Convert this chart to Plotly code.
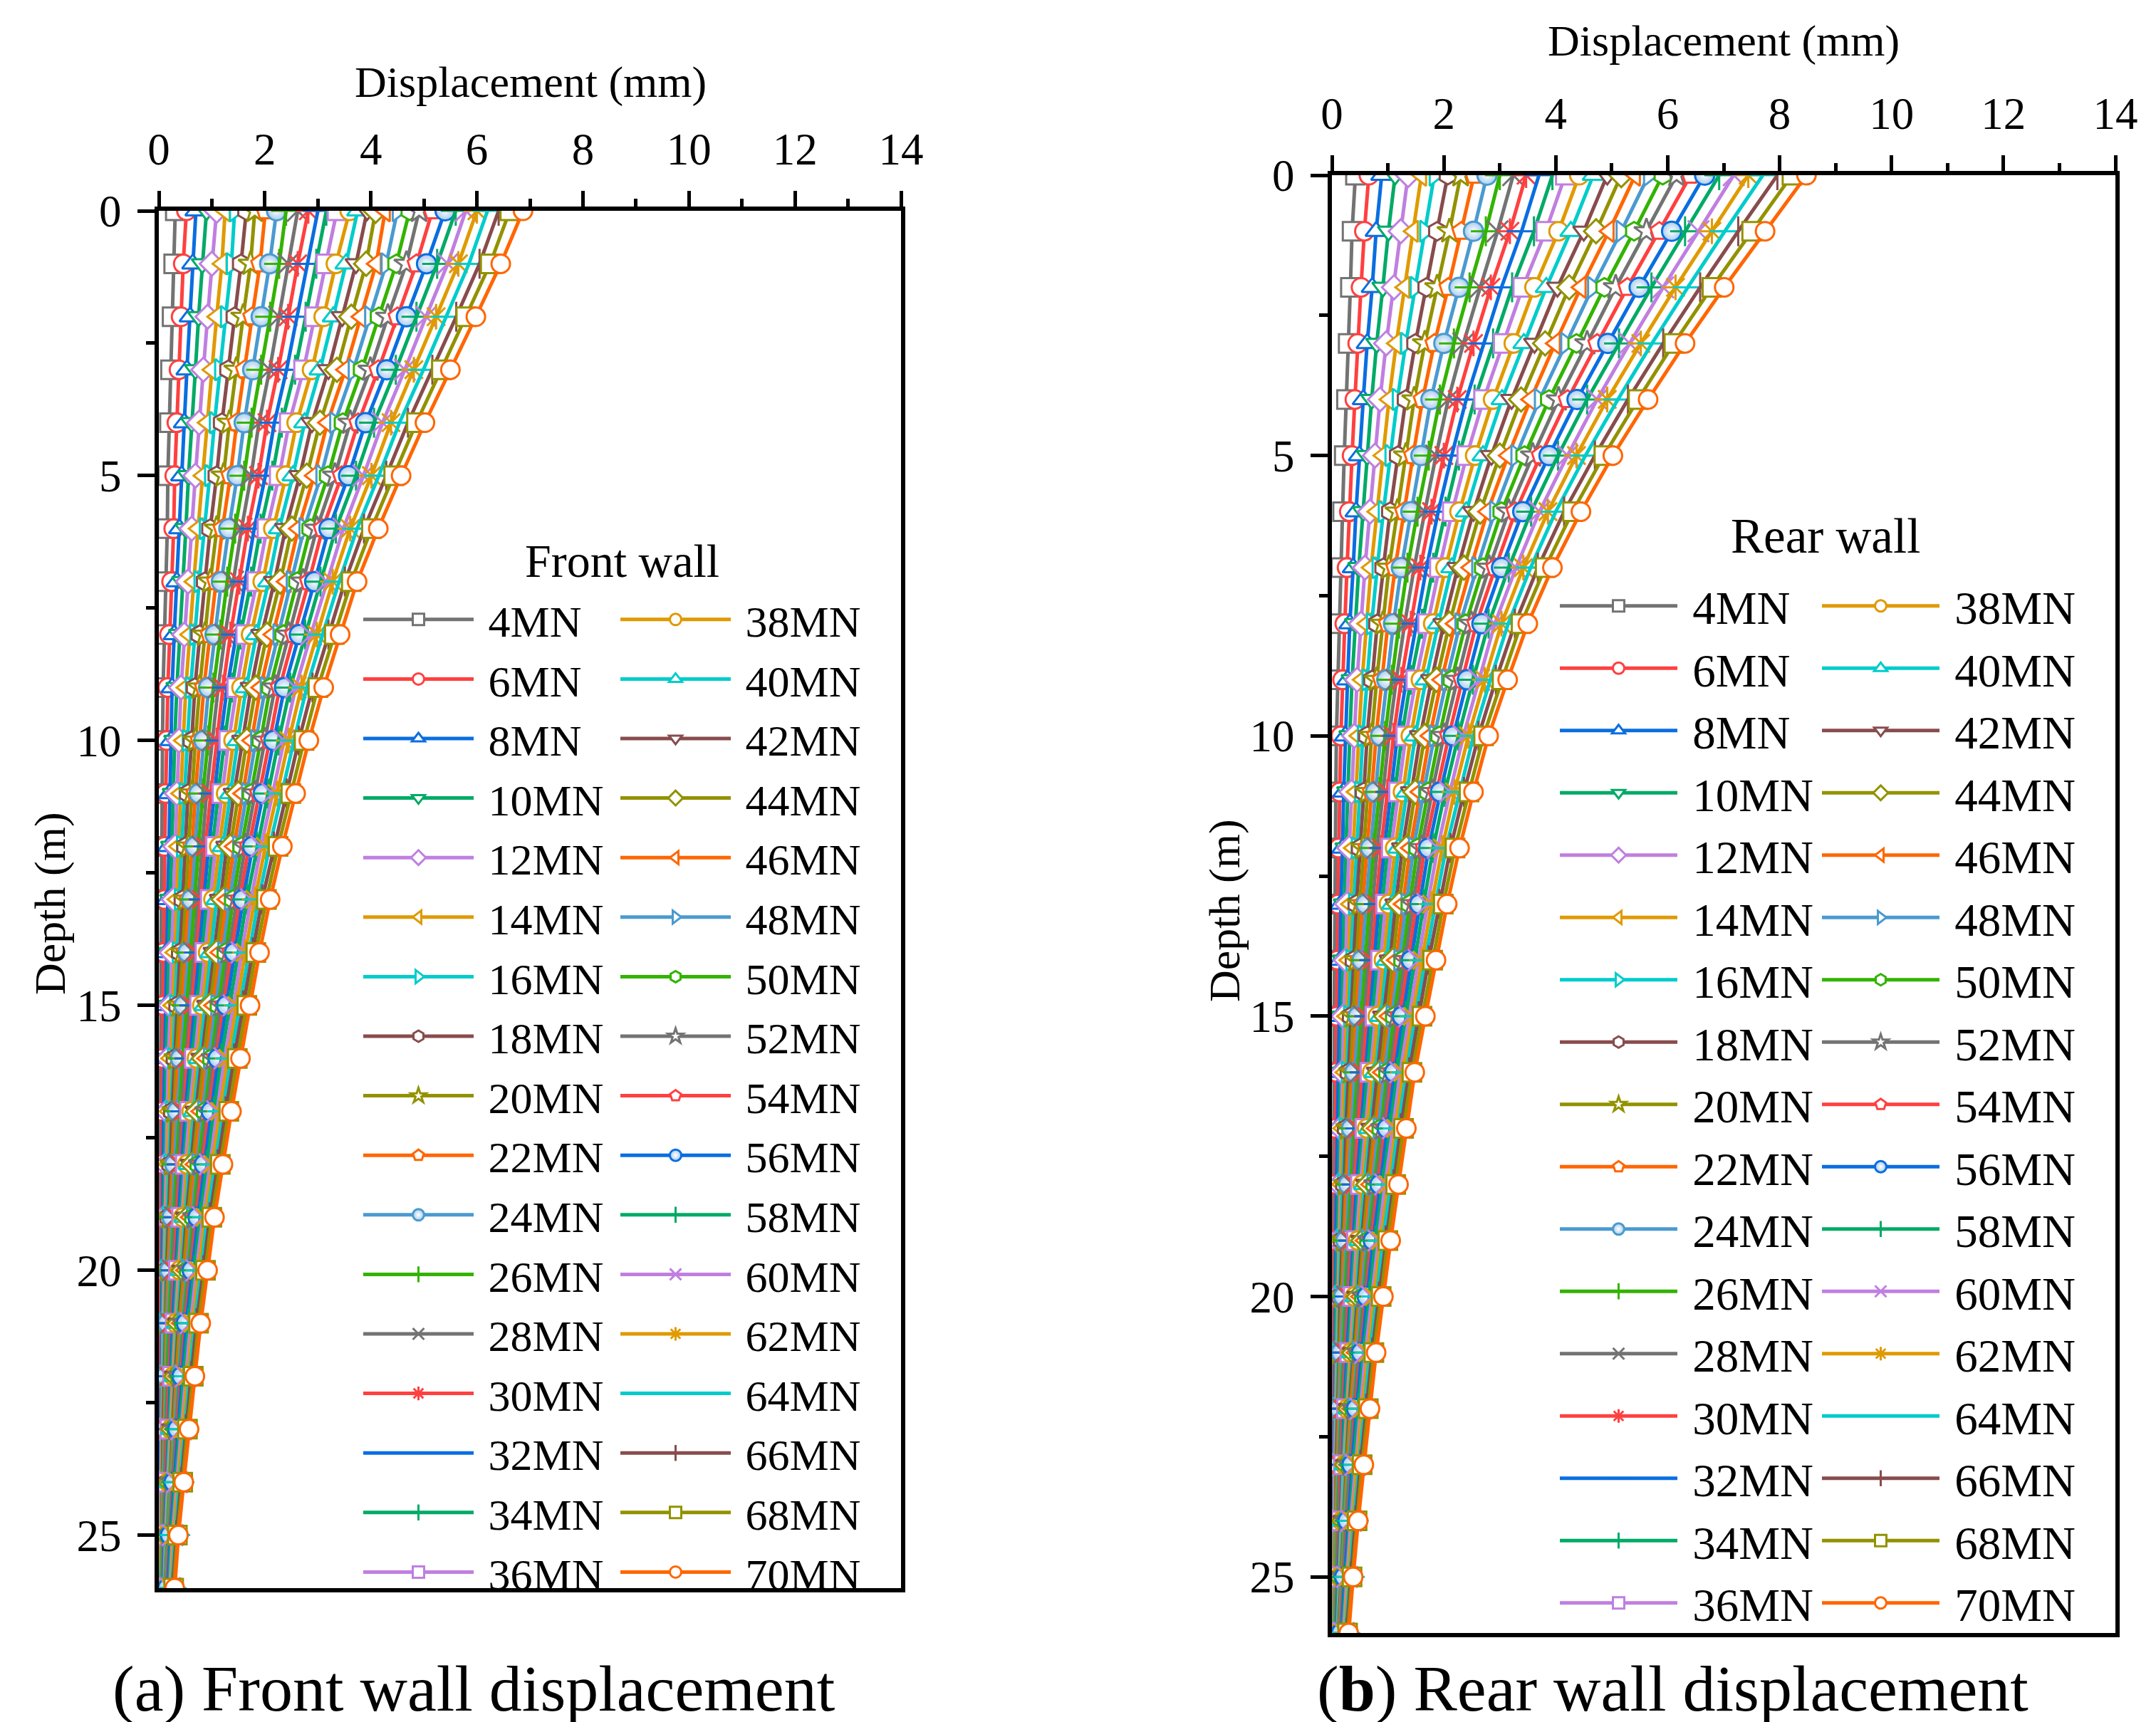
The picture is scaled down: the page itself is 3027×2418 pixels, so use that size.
import plotly.graph_objects as go

# ---------------- data ----------------
loads = [4, 6, 8, 10, 12, 14, 16, 18, 20, 22, 24, 26, 28, 30, 32, 34, 36,
         38, 40, 42, 44, 46, 48, 50, 52, 54, 56, 58, 60, 62, 64, 66, 68, 70]
depths = [0, 1, 2, 3, 4, 5, 6, 7, 8, 9, 10, 11, 12, 13, 14, 15, 16, 17, 18,
          19, 20, 21, 22, 23, 24, 25, 26]
x_ticks = [0, 2, 4, 6, 8, 10, 12, 14]
y_ticks = [0, 5, 10, 15, 20, 25]

# Front wall displacement (mm); one list per depth, values ordered as `loads`
front_d00 = [0.31, 0.52, 0.70, 0.90, 1.09, 1.25, 1.43, 1.65, 1.81, 2.01, 2.22, 2.40, 2.62, 2.82, 3.00, 3.16, 3.36, 3.60, 3.75, 3.93, 4.09, 4.27, 4.50, 4.73, 4.91, 5.16, 5.40, 5.60, 5.79, 6.00, 6.20, 6.41, 6.62, 6.87]
front_d01 = [0.28, 0.46, 0.64, 0.82, 1.00, 1.19, 1.37, 1.55, 1.73, 1.91, 2.09, 2.27, 2.44, 2.62, 2.80, 2.97, 3.15, 3.34, 3.53, 3.72, 3.91, 4.10, 4.29, 4.48, 4.67, 4.86, 5.05, 5.25, 5.45, 5.65, 5.85, 6.05, 6.25, 6.45]
front_d02 = [0.25, 0.42, 0.59, 0.75, 0.92, 1.09, 1.26, 1.43, 1.59, 1.76, 1.93, 2.10, 2.27, 2.44, 2.60, 2.77, 2.94, 3.11, 3.29, 3.46, 3.63, 3.81, 3.98, 4.15, 4.32, 4.50, 4.67, 4.86, 5.04, 5.23, 5.42, 5.61, 5.79, 5.98]
front_d03 = [0.22, 0.38, 0.53, 0.69, 0.84, 1.00, 1.15, 1.31, 1.46, 1.62, 1.77, 1.93, 2.09, 2.25, 2.41, 2.57, 2.73, 2.89, 3.04, 3.20, 3.36, 3.52, 3.67, 3.83, 3.99, 4.14, 4.30, 4.47, 4.64, 4.81, 4.99, 5.16, 5.33, 5.50]
front_d04 = [0.20, 0.34, 0.48, 0.62, 0.76, 0.91, 1.05, 1.19, 1.33, 1.47, 1.61, 1.75, 1.89, 2.04, 2.18, 2.32, 2.46, 2.60, 2.75, 2.89, 3.04, 3.18, 3.32, 3.47, 3.61, 3.76, 3.90, 4.06, 4.22, 4.38, 4.54, 4.70, 4.86, 5.02]
front_d05 = [0.17, 0.30, 0.43, 0.56, 0.69, 0.83, 0.96, 1.09, 1.22, 1.35, 1.48, 1.61, 1.74, 1.88, 2.01, 2.14, 2.27, 2.40, 2.53, 2.66, 2.79, 2.93, 3.06, 3.19, 3.32, 3.45, 3.58, 3.72, 3.86, 4.01, 4.15, 4.29, 4.43, 4.57]
front_d06 = [0.16, 0.28, 0.39, 0.51, 0.62, 0.74, 0.86, 0.97, 1.09, 1.20, 1.32, 1.44, 1.56, 1.68, 1.80, 1.92, 2.04, 2.16, 2.27, 2.39, 2.51, 2.63, 2.74, 2.86, 2.98, 3.09, 3.21, 3.34, 3.48, 3.61, 3.74, 3.87, 4.01, 4.14]
front_d07 = [0.13, 0.24, 0.34, 0.45, 0.55, 0.66, 0.76, 0.87, 0.97, 1.08, 1.18, 1.29, 1.40, 1.52, 1.63, 1.74, 1.85, 1.96, 2.07, 2.18, 2.29, 2.40, 2.50, 2.61, 2.72, 2.83, 2.94, 3.05, 3.17, 3.28, 3.40, 3.51, 3.63, 3.74]
front_d08 = [0.10, 0.20, 0.29, 0.39, 0.48, 0.58, 0.68, 0.77, 0.87, 0.96, 1.06, 1.16, 1.25, 1.35, 1.45, 1.54, 1.64, 1.74, 1.84, 1.94, 2.04, 2.15, 2.25, 2.35, 2.45, 2.55, 2.65, 2.76, 2.87, 2.98, 3.09, 3.20, 3.31, 3.42]
front_d09 = [0.08, 0.17, 0.25, 0.34, 0.42, 0.51, 0.60, 0.68, 0.77, 0.85, 0.94, 1.03, 1.12, 1.21, 1.29, 1.38, 1.47, 1.56, 1.65, 1.74, 1.83, 1.92, 2.01, 2.10, 2.19, 2.28, 2.37, 2.48, 2.58, 2.69, 2.79, 2.90, 3.00, 3.11]
front_d10 = [0.07, 0.15, 0.23, 0.30, 0.38, 0.46, 0.54, 0.62, 0.69, 0.77, 0.85, 0.93, 1.01, 1.09, 1.16, 1.24, 1.32, 1.41, 1.49, 1.58, 1.66, 1.75, 1.83, 1.92, 2.00, 2.09, 2.17, 2.26, 2.36, 2.45, 2.55, 2.64, 2.74, 2.83]
front_d11 = [0.06, 0.13, 0.20, 0.27, 0.34, 0.41, 0.48, 0.55, 0.62, 0.69, 0.76, 0.83, 0.90, 0.98, 1.05, 1.12, 1.19, 1.27, 1.35, 1.42, 1.50, 1.58, 1.66, 1.74, 1.81, 1.89, 1.97, 2.06, 2.14, 2.23, 2.32, 2.41, 2.49, 2.58]
front_d12 = [0.05, 0.11, 0.18, 0.24, 0.31, 0.37, 0.43, 0.50, 0.56, 0.63, 0.69, 0.75, 0.82, 0.88, 0.94, 1.01, 1.07, 1.14, 1.21, 1.28, 1.35, 1.42, 1.49, 1.56, 1.63, 1.70, 1.77, 1.85, 1.93, 2.01, 2.09, 2.17, 2.25, 2.33]
front_d13 = [0.05, 0.11, 0.16, 0.22, 0.28, 0.34, 0.39, 0.45, 0.51, 0.56, 0.62, 0.68, 0.74, 0.80, 0.85, 0.91, 0.97, 1.03, 1.09, 1.16, 1.22, 1.28, 1.34, 1.40, 1.47, 1.53, 1.59, 1.66, 1.74, 1.81, 1.88, 1.95, 2.03, 2.10]
front_d14 = [0.04, 0.09, 0.14, 0.19, 0.24, 0.30, 0.35, 0.40, 0.45, 0.50, 0.55, 0.60, 0.66, 0.71, 0.76, 0.82, 0.87, 0.93, 0.98, 1.04, 1.09, 1.15, 1.21, 1.26, 1.32, 1.37, 1.43, 1.50, 1.56, 1.63, 1.70, 1.77, 1.83, 1.90]
front_d15 = [0.04, 0.08, 0.13, 0.17, 0.22, 0.26, 0.30, 0.35, 0.39, 0.44, 0.48, 0.53, 0.58, 0.63, 0.67, 0.72, 0.77, 0.82, 0.87, 0.92, 0.97, 1.03, 1.08, 1.13, 1.18, 1.23, 1.28, 1.34, 1.41, 1.47, 1.53, 1.59, 1.66, 1.72]
front_d16 = [0.03, 0.07, 0.11, 0.14, 0.18, 0.22, 0.26, 0.30, 0.33, 0.37, 0.41, 0.45, 0.50, 0.54, 0.58, 0.63, 0.67, 0.72, 0.76, 0.81, 0.85, 0.90, 0.94, 0.99, 1.03, 1.08, 1.12, 1.18, 1.24, 1.30, 1.36, 1.42, 1.48, 1.54]
front_d17 = [0.03, 0.06, 0.09, 0.13, 0.16, 0.19, 0.22, 0.25, 0.29, 0.32, 0.35, 0.39, 0.43, 0.47, 0.50, 0.54, 0.58, 0.62, 0.66, 0.70, 0.74, 0.79, 0.83, 0.87, 0.91, 0.95, 0.99, 1.04, 1.10, 1.15, 1.21, 1.26, 1.32, 1.37]
front_d18 = [0.03, 0.06, 0.08, 0.11, 0.14, 0.17, 0.19, 0.22, 0.25, 0.27, 0.30, 0.33, 0.37, 0.40, 0.43, 0.47, 0.50, 0.54, 0.57, 0.61, 0.64, 0.68, 0.72, 0.75, 0.79, 0.82, 0.86, 0.91, 0.96, 1.01, 1.06, 1.11, 1.16, 1.21]
front_d19 = [0.02, 0.04, 0.07, 0.09, 0.11, 0.14, 0.16, 0.18, 0.20, 0.23, 0.25, 0.28, 0.31, 0.34, 0.37, 0.40, 0.43, 0.46, 0.49, 0.52, 0.55, 0.59, 0.62, 0.65, 0.68, 0.71, 0.74, 0.78, 0.83, 0.87, 0.91, 0.96, 1.00, 1.05]
front_d20 = [0.02, 0.04, 0.06, 0.08, 0.10, 0.12, 0.13, 0.15, 0.17, 0.19, 0.21, 0.24, 0.26, 0.29, 0.32, 0.34, 0.37, 0.40, 0.42, 0.45, 0.47, 0.50, 0.53, 0.55, 0.58, 0.60, 0.63, 0.67, 0.71, 0.75, 0.80, 0.84, 0.88, 0.92]
front_d21 = [0.02, 0.04, 0.05, 0.07, 0.08, 0.10, 0.11, 0.13, 0.14, 0.16, 0.17, 0.19, 0.22, 0.24, 0.26, 0.29, 0.31, 0.33, 0.35, 0.37, 0.39, 0.42, 0.44, 0.46, 0.48, 0.50, 0.52, 0.56, 0.60, 0.64, 0.67, 0.71, 0.75, 0.79]
front_d22 = [0.02, 0.03, 0.04, 0.06, 0.07, 0.08, 0.09, 0.10, 0.12, 0.13, 0.14, 0.16, 0.18, 0.20, 0.22, 0.24, 0.26, 0.28, 0.30, 0.31, 0.33, 0.35, 0.37, 0.39, 0.40, 0.42, 0.44, 0.47, 0.51, 0.54, 0.58, 0.61, 0.65, 0.68]
front_d23 = [0.01, 0.02, 0.03, 0.04, 0.05, 0.06, 0.07, 0.08, 0.09, 0.10, 0.11, 0.13, 0.14, 0.16, 0.18, 0.19, 0.21, 0.23, 0.24, 0.26, 0.27, 0.29, 0.30, 0.32, 0.33, 0.35, 0.36, 0.39, 0.42, 0.45, 0.48, 0.51, 0.54, 0.57]
front_d24 = [0.01, 0.02, 0.03, 0.03, 0.04, 0.05, 0.06, 0.07, 0.07, 0.08, 0.09, 0.10, 0.12, 0.13, 0.14, 0.16, 0.17, 0.18, 0.19, 0.21, 0.22, 0.23, 0.24, 0.25, 0.26, 0.28, 0.29, 0.32, 0.34, 0.37, 0.39, 0.42, 0.45, 0.47]
front_d25 = [0.01, 0.02, 0.02, 0.03, 0.03, 0.04, 0.05, 0.05, 0.06, 0.06, 0.07, 0.08, 0.09, 0.10, 0.11, 0.12, 0.13, 0.14, 0.15, 0.16, 0.17, 0.18, 0.18, 0.19, 0.20, 0.21, 0.22, 0.24, 0.26, 0.28, 0.31, 0.33, 0.35, 0.37]
front_d26 = [0.01, 0.01, 0.02, 0.02, 0.03, 0.03, 0.03, 0.04, 0.04, 0.05, 0.05, 0.06, 0.07, 0.08, 0.08, 0.09, 0.10, 0.11, 0.11, 0.12, 0.13, 0.13, 0.14, 0.15, 0.15, 0.16, 0.17, 0.19, 0.21, 0.23, 0.24, 0.26, 0.28, 0.30]

# Rear wall displacement (mm)
rear_d00 = [0.42, 0.66, 0.89, 1.13, 1.36, 1.60, 1.83, 2.07, 2.30, 2.54, 2.77, 3.00, 3.24, 3.47, 3.70, 3.94, 4.17, 4.42, 4.67, 4.92, 5.17, 5.42, 5.66, 5.91, 6.16, 6.41, 6.66, 6.92, 7.18, 7.44, 7.70, 7.96, 8.22, 8.48]
rear_d01 = [0.36, 0.58, 0.79, 1.01, 1.23, 1.45, 1.66, 1.88, 2.10, 2.31, 2.53, 2.75, 2.96, 3.18, 3.39, 3.61, 3.82, 4.05, 4.27, 4.50, 4.72, 4.95, 5.17, 5.40, 5.62, 5.85, 6.07, 6.31, 6.55, 6.79, 7.02, 7.26, 7.50, 7.74]
rear_d02 = [0.33, 0.52, 0.72, 0.91, 1.11, 1.30, 1.49, 1.69, 1.88, 2.08, 2.27, 2.46, 2.65, 2.84, 3.03, 3.22, 3.41, 3.62, 3.83, 4.03, 4.24, 4.45, 4.66, 4.87, 5.07, 5.28, 5.49, 5.71, 5.92, 6.14, 6.36, 6.58, 6.79, 7.01]
rear_d03 = [0.29, 0.46, 0.63, 0.80, 0.97, 1.15, 1.32, 1.49, 1.66, 1.83, 2.00, 2.18, 2.35, 2.53, 2.71, 2.88, 3.06, 3.25, 3.43, 3.62, 3.81, 3.99, 4.18, 4.37, 4.56, 4.74, 4.93, 5.13, 5.32, 5.52, 5.72, 5.92, 6.11, 6.31]
rear_d04 = [0.26, 0.41, 0.56, 0.71, 0.86, 1.02, 1.17, 1.32, 1.47, 1.62, 1.77, 1.93, 2.08, 2.24, 2.40, 2.55, 2.71, 2.88, 3.04, 3.21, 3.38, 3.55, 3.71, 3.88, 4.05, 4.21, 4.38, 4.56, 4.74, 4.92, 5.11, 5.29, 5.47, 5.65]
rear_d05 = [0.22, 0.36, 0.49, 0.63, 0.77, 0.91, 1.04, 1.18, 1.32, 1.45, 1.59, 1.73, 1.86, 2.00, 2.14, 2.27, 2.41, 2.56, 2.70, 2.85, 3.00, 3.15, 3.29, 3.44, 3.59, 3.73, 3.88, 4.04, 4.21, 4.37, 4.53, 4.70, 4.86, 5.02]
rear_d06 = [0.19, 0.31, 0.43, 0.56, 0.68, 0.80, 0.92, 1.04, 1.17, 1.29, 1.41, 1.53, 1.66, 1.78, 1.90, 2.03, 2.15, 2.28, 2.40, 2.53, 2.65, 2.78, 2.91, 3.03, 3.16, 3.28, 3.41, 3.56, 3.71, 3.86, 4.00, 4.15, 4.30, 4.45]
rear_d07 = [0.16, 0.27, 0.38, 0.48, 0.59, 0.70, 0.81, 0.92, 1.02, 1.13, 1.24, 1.35, 1.47, 1.58, 1.69, 1.81, 1.92, 2.03, 2.14, 2.25, 2.36, 2.48, 2.59, 2.70, 2.81, 2.92, 3.03, 3.16, 3.29, 3.42, 3.55, 3.68, 3.81, 3.94]
rear_d08 = [0.13, 0.23, 0.32, 0.42, 0.52, 0.62, 0.71, 0.81, 0.91, 1.00, 1.10, 1.20, 1.30, 1.41, 1.51, 1.61, 1.71, 1.81, 1.90, 2.00, 2.10, 2.20, 2.29, 2.39, 2.49, 2.58, 2.68, 2.80, 2.91, 3.03, 3.15, 3.27, 3.38, 3.50]
rear_d09 = [0.10, 0.19, 0.28, 0.36, 0.45, 0.54, 0.63, 0.72, 0.80, 0.89, 0.98, 1.07, 1.15, 1.24, 1.33, 1.41, 1.50, 1.59, 1.68, 1.78, 1.87, 1.96, 2.05, 2.14, 2.24, 2.33, 2.42, 2.52, 2.63, 2.73, 2.83, 2.93, 3.04, 3.14]
rear_d10 = [0.08, 0.16, 0.24, 0.32, 0.40, 0.48, 0.55, 0.63, 0.71, 0.79, 0.87, 0.95, 1.02, 1.10, 1.17, 1.25, 1.32, 1.41, 1.49, 1.58, 1.66, 1.75, 1.83, 1.92, 2.00, 2.09, 2.17, 2.26, 2.35, 2.44, 2.53, 2.62, 2.71, 2.80]
rear_d11 = [0.07, 0.14, 0.21, 0.28, 0.35, 0.43, 0.50, 0.57, 0.64, 0.71, 0.78, 0.85, 0.92, 0.99, 1.05, 1.12, 1.19, 1.27, 1.34, 1.42, 1.49, 1.57, 1.64, 1.72, 1.79, 1.87, 1.94, 2.02, 2.11, 2.19, 2.28, 2.36, 2.45, 2.53]
rear_d12 = [0.06, 0.12, 0.19, 0.25, 0.31, 0.38, 0.44, 0.50, 0.56, 0.63, 0.69, 0.75, 0.81, 0.88, 0.94, 1.00, 1.06, 1.13, 1.19, 1.26, 1.33, 1.40, 1.46, 1.53, 1.60, 1.66, 1.73, 1.81, 1.89, 1.97, 2.04, 2.12, 2.20, 2.28]
rear_d13 = [0.05, 0.11, 0.16, 0.22, 0.27, 0.33, 0.39, 0.44, 0.50, 0.55, 0.61, 0.67, 0.73, 0.79, 0.84, 0.90, 0.96, 1.02, 1.08, 1.14, 1.20, 1.27, 1.33, 1.39, 1.45, 1.51, 1.57, 1.64, 1.71, 1.78, 1.85, 1.92, 1.99, 2.06]
rear_d14 = [0.05, 0.10, 0.15, 0.20, 0.25, 0.30, 0.34, 0.39, 0.44, 0.49, 0.54, 0.60, 0.65, 0.71, 0.76, 0.82, 0.87, 0.93, 0.98, 1.04, 1.09, 1.15, 1.20, 1.26, 1.31, 1.37, 1.42, 1.48, 1.55, 1.61, 1.67, 1.73, 1.80, 1.86]
rear_d15 = [0.04, 0.08, 0.13, 0.17, 0.21, 0.26, 0.30, 0.34, 0.38, 0.43, 0.47, 0.52, 0.57, 0.62, 0.67, 0.72, 0.77, 0.82, 0.87, 0.92, 0.97, 1.02, 1.06, 1.11, 1.16, 1.21, 1.26, 1.32, 1.38, 1.44, 1.49, 1.55, 1.61, 1.67]
rear_d16 = [0.04, 0.08, 0.11, 0.15, 0.19, 0.23, 0.26, 0.30, 0.34, 0.37, 0.41, 0.46, 0.50, 0.55, 0.59, 0.64, 0.68, 0.72, 0.77, 0.81, 0.86, 0.90, 0.94, 0.99, 1.03, 1.08, 1.12, 1.17, 1.22, 1.27, 1.33, 1.38, 1.43, 1.48]
rear_d17 = [0.03, 0.06, 0.09, 0.13, 0.16, 0.19, 0.22, 0.25, 0.29, 0.32, 0.35, 0.39, 0.43, 0.47, 0.51, 0.55, 0.59, 0.63, 0.67, 0.71, 0.75, 0.79, 0.83, 0.87, 0.91, 0.95, 0.99, 1.04, 1.09, 1.14, 1.18, 1.23, 1.28, 1.33]
rear_d18 = [0.03, 0.06, 0.08, 0.11, 0.14, 0.17, 0.19, 0.22, 0.25, 0.27, 0.30, 0.34, 0.37, 0.41, 0.44, 0.48, 0.51, 0.55, 0.58, 0.62, 0.65, 0.69, 0.72, 0.76, 0.79, 0.83, 0.86, 0.91, 0.95, 1.00, 1.05, 1.10, 1.14, 1.19]
rear_d19 = [0.03, 0.05, 0.07, 0.10, 0.12, 0.14, 0.16, 0.18, 0.21, 0.23, 0.25, 0.28, 0.31, 0.35, 0.38, 0.41, 0.44, 0.47, 0.50, 0.53, 0.56, 0.59, 0.62, 0.65, 0.68, 0.71, 0.74, 0.78, 0.83, 0.87, 0.91, 0.96, 1.00, 1.05]
rear_d20 = [0.02, 0.04, 0.06, 0.08, 0.10, 0.12, 0.13, 0.15, 0.17, 0.19, 0.21, 0.24, 0.27, 0.30, 0.32, 0.35, 0.38, 0.41, 0.43, 0.46, 0.48, 0.51, 0.53, 0.56, 0.58, 0.61, 0.63, 0.67, 0.71, 0.75, 0.80, 0.84, 0.88, 0.92]
rear_d21 = [0.02, 0.04, 0.05, 0.07, 0.08, 0.10, 0.11, 0.13, 0.14, 0.16, 0.17, 0.20, 0.22, 0.25, 0.27, 0.30, 0.32, 0.34, 0.36, 0.38, 0.40, 0.43, 0.45, 0.47, 0.49, 0.51, 0.53, 0.57, 0.60, 0.64, 0.68, 0.72, 0.75, 0.79]
rear_d22 = [0.02, 0.03, 0.04, 0.06, 0.07, 0.08, 0.09, 0.10, 0.12, 0.13, 0.14, 0.16, 0.18, 0.20, 0.22, 0.24, 0.26, 0.28, 0.30, 0.31, 0.33, 0.35, 0.37, 0.39, 0.40, 0.42, 0.44, 0.47, 0.51, 0.54, 0.58, 0.61, 0.65, 0.68]
rear_d23 = [0.01, 0.02, 0.03, 0.04, 0.05, 0.06, 0.07, 0.08, 0.09, 0.10, 0.11, 0.13, 0.14, 0.16, 0.18, 0.19, 0.21, 0.23, 0.24, 0.26, 0.27, 0.29, 0.30, 0.32, 0.33, 0.35, 0.36, 0.39, 0.42, 0.45, 0.48, 0.51, 0.54, 0.57]
rear_d24 = [0.01, 0.02, 0.03, 0.03, 0.04, 0.05, 0.06, 0.07, 0.07, 0.08, 0.09, 0.10, 0.12, 0.13, 0.14, 0.16, 0.17, 0.18, 0.19, 0.21, 0.22, 0.23, 0.24, 0.25, 0.26, 0.28, 0.29, 0.32, 0.34, 0.37, 0.39, 0.42, 0.45, 0.47]
rear_d25 = [0.01, 0.02, 0.02, 0.03, 0.03, 0.04, 0.05, 0.05, 0.06, 0.06, 0.07, 0.08, 0.09, 0.10, 0.11, 0.12, 0.13, 0.14, 0.15, 0.16, 0.17, 0.18, 0.19, 0.20, 0.21, 0.22, 0.23, 0.25, 0.27, 0.29, 0.32, 0.34, 0.36, 0.38]
rear_d26 = [0.01, 0.01, 0.02, 0.02, 0.03, 0.03, 0.03, 0.04, 0.04, 0.05, 0.05, 0.06, 0.07, 0.08, 0.08, 0.09, 0.10, 0.11, 0.11, 0.12, 0.13, 0.13, 0.14, 0.15, 0.15, 0.16, 0.17, 0.19, 0.21, 0.23, 0.24, 0.26, 0.28, 0.30]

front_rows = [front_d00, front_d01, front_d02, front_d03, front_d04, front_d05, front_d06,
              front_d07, front_d08, front_d09, front_d10, front_d11, front_d12, front_d13,
              front_d14, front_d15, front_d16, front_d17, front_d18, front_d19, front_d20,
              front_d21, front_d22, front_d23, front_d24, front_d25, front_d26]
rear_rows = [rear_d00, rear_d01, rear_d02, rear_d03, rear_d04, rear_d05, rear_d06,
             rear_d07, rear_d08, rear_d09, rear_d10, rear_d11, rear_d12, rear_d13,
             rear_d14, rear_d15, rear_d16, rear_d17, rear_d18, rear_d19, rear_d20,
             rear_d21, rear_d22, rear_d23, rear_d24, rear_d25, rear_d26]
for r in front_rows + rear_rows:
    assert len(r) == len(loads)

# ---------------- styles ----------------
palette = ["#737373", "#FF4040", "#0A6EE0", "#00AA66", "#C07FE0", "#E09A00",
           "#00CCCC", "#884C4C", "#929200", "#FF6600", "#4A9AD0", "#33B300"]
symbols = ["square", "circle", "triangle-up", "triangle-down", "diamond",
           "triangle-left", "triangle-right", "hexagon", "star", "pentagon",
           "sphere", "cross-thin", "x-thin", "asterisk", "line-ew", "line-ns"]
FONT = "Liberation Serif"
W, H = 3027, 2418
NB = "\u00a0"

fig = go.Figure()


def add_series(rows, xa, ya, legend_a, legend_b):
    for j, load in enumerate(loads):
        xs = [row[j] for row in rows]
        col = palette[j % len(palette)]
        sym = symbols[j % len(symbols)]
        if sym == "sphere":
            marker = dict(symbol="circle", size=27, color="#A9CCEE",
                          gradient=dict(type="radial", color="#FFFFFF"),
                          line=dict(color=col, width=3))
        elif sym in ("cross-thin", "x-thin", "asterisk", "line-ew", "line-ns"):
            marker = dict(symbol=sym, size=30, color=col,
                          line=dict(color=col, width=3))
        else:
            marker = dict(symbol=sym, size=26, color="white",
                          line=dict(color=col, width=3))
        fig.add_trace(go.Scatter(
            x=xs, y=depths, mode="lines+markers", name=f"{NB}{load}MN",
            line=dict(color=col, width=5), marker=marker,
            xaxis=xa, yaxis=ya,
            legend=legend_a if j < 17 else legend_b))


add_series(front_rows, "x", "y", "legend", "legend2")
add_series(rear_rows, "x2", "y2", "legend3", "legend4")

axis_common = dict(showline=True, linewidth=6, linecolor="black", mirror=True,
                   showgrid=False, zeroline=False, ticks="outside",
                   tickcolor="black", tickwidth=5, automargin=False,
                   tickfont=dict(family=FONT, size=63, color="black"))

xcommon = dict(axis_common, side="top", range=[0, 14], tickmode="array",
               tickvals=x_ticks, ticklen=22, ticklabelstandoff=12,
               minor=dict(dtick=1, tick0=0, ticks="outside", ticklen=11,
                          tickwidth=5, tickcolor="black", showgrid=False))
ycommon = dict(axis_common, range=[26, 0], tickmode="array",
               tickvals=y_ticks, ticklen=24, ticklabelstandoff=10,
               minor=dict(dtick=2.5, tick0=0, ticks="outside", ticklen=12,
                          tickwidth=5, tickcolor="black", showgrid=False))


def px(v):
    return v / W


def py(v):
    return 1 - v / H


legend_common = dict(xanchor="left", yanchor="top", bgcolor="rgba(0,0,0,0)",
                     borderwidth=0, tracegroupgap=0, orientation="v")

fig.update_layout(
    width=W, height=H, margin=dict(l=0, r=0, t=0, b=0, autoexpand=False),
    paper_bgcolor="white", plot_bgcolor="white", showlegend=True,
    font=dict(family=FONT, color="black"),
    xaxis=dict(xcommon, domain=[px(215), px(1257)], anchor="y"),
    yaxis=dict(ycommon, domain=[py(2222), py(288)], anchor="x"),
    xaxis2=dict(xcommon, domain=[px(1862), px(2962)], anchor="y2"),
    yaxis2=dict(ycommon, domain=[py(2285), py(238)], anchor="x2"),
    legend=dict(legend_common, x=px(497), y=py(815), itemwidth=155,
                font=dict(family=FONT, size=62, color="black")),
    legend2=dict(legend_common, x=px(858), y=py(815), itemwidth=155,
                 font=dict(family=FONT, size=62, color="black")),
    legend3=dict(legend_common, x=px(2177), y=py(794), itemwidth=165,
                 font=dict(family=FONT, size=65, color="black")),
    legend4=dict(legend_common, x=px(2545), y=py(794), itemwidth=165,
                 font=dict(family=FONT, size=65, color="black")),
)

ann_font = dict(family=FONT, size=62, color="black")
annotations = [
    dict(text="Displacement (mm)", x=px(737), y=py(108), font=ann_font),
    dict(text="Displacement (mm)", x=px(2412), y=py(50), font=ann_font),
    dict(text="Depth (m)", x=px(62), y=py(1261), textangle=-90, font=ann_font),
    dict(text="Depth (m)", x=px(1711), y=py(1271), textangle=-90, font=ann_font),
    dict(text="Front wall", x=px(865), y=py(779), font=dict(family=FONT, size=66, color="black")),
    dict(text="Rear wall", x=px(2555), y=py(745), font=dict(family=FONT, size=69, color="black")),
    dict(text="(a) Front wall displacement", x=px(657), y=py(2363),
         font=dict(family=FONT, size=92, color="black")),
    dict(text="(<b>b</b>) Rear wall displacement", x=px(2340), y=py(2363),
         font=dict(family=FONT, size=92, color="black")),
]
for a in annotations:
    a.update(xref="paper", yref="paper", showarrow=False,
             xanchor="center", yanchor="middle")
fig.update_layout(annotations=annotations)

fig.write_html("out.html")
